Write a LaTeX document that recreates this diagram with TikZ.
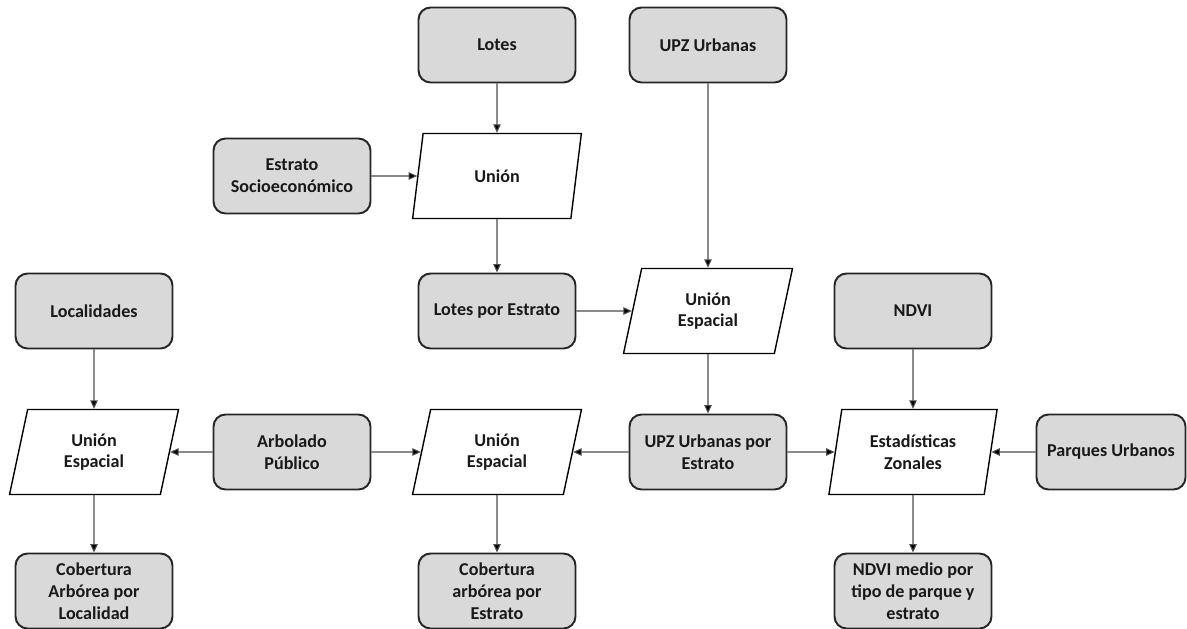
\documentclass[tikz,border=0pt]{standalone}
\usepackage{fontspec}
\setmainfont{Carlito}
\usetikzlibrary{shapes.geometric,arrows.meta}
\begin{document}
\begin{tikzpicture}[x=0.02cm,y=-0.02cm,
  txt/.style={align=center,font=\fontsize{10.3}{12.4}\selectfont\bfseries,text=black!90},
  box/.style={txt,draw=black!85,line width=1.1pt,fill=black!15,rounded corners=0.24cm,
    minimum width=3.14cm,minimum height=1.5cm,inner sep=1pt},
  para/.style={txt,trapezium,trapezium left angle=78,trapezium right angle=102,
    trapezium stretches=true,draw=black,line width=0.8pt,fill=white,
    minimum width=3.38cm,minimum height=1.7cm,inner sep=1pt},
  arr/.style={-{Triangle[length=0.17cm,width=0.15cm,fill=black]},line width=0.6pt,draw=black!70}]
\useasboundingbox (0,0) rectangle (1187,629);
\node[box] (lotes) at (497,45) {Lotes};
\node[box] (upz) at (708,45) {UPZ Urbanas};
\node[box] (estrato) at (292,176) {Estrato\\Socioeconómico};
\node[para] (union) at (497,176) {Unión};
\node[box] (localidades) at (94,311) {Localidades};
\node[box] (lotesest) at (497,311) {Lotes por Estrato};
\node[para] (ue1) at (708,311) {Unión\\Espacial};
\node[box] (ndvi) at (913,311) {NDVI};
\node[para] (ue3) at (94,452) {Unión\\Espacial};
\node[box] (arbolado) at (292,452) {Arbolado\\Público};
\node[para] (ue2) at (497,452) {Unión\\Espacial};
\node[box] (upzest) at (708,452) {UPZ Urbanas por\\Estrato};
\node[para] (estad) at (913,452) {Estadísticas\\Zonales};
\node[box,minimum width=2.98cm] (parques) at (1111,452) {Parques Urbanos};
\node[box] (cobloc) at (94,591) {Cobertura\\Arbórea por\\Localidad};
\node[box] (cobest) at (497,591) {Cobertura\\arbórea por\\Estrato};
\node[box] (ndvimedio) at (913,591) {NDVI medio por\\tipo de parque y\\estrato};
\draw[arr] (lotes) -- (union);
\draw[arr] (estrato) -- (union);
\draw[arr] (union) -- (lotesest);
\draw[arr] (upz) -- (ue1);
\draw[arr] (lotesest) -- (ue1);
\draw[arr] (ue1) -- (upzest);
\draw[arr] (upzest) -- (ue2);
\draw[arr] (upzest) -- (estad);
\draw[arr] (arbolado) -- (ue2);
\draw[arr] (arbolado) -- (ue3);
\draw[arr] (localidades) -- (ue3);
\draw[arr] (ue3) -- (cobloc);
\draw[arr] (ue2) -- (cobest);
\draw[arr] (ndvi) -- (estad);
\draw[arr] (parques) -- (estad);
\draw[arr] (estad) -- (ndvimedio);
\end{tikzpicture}
\end{document}
